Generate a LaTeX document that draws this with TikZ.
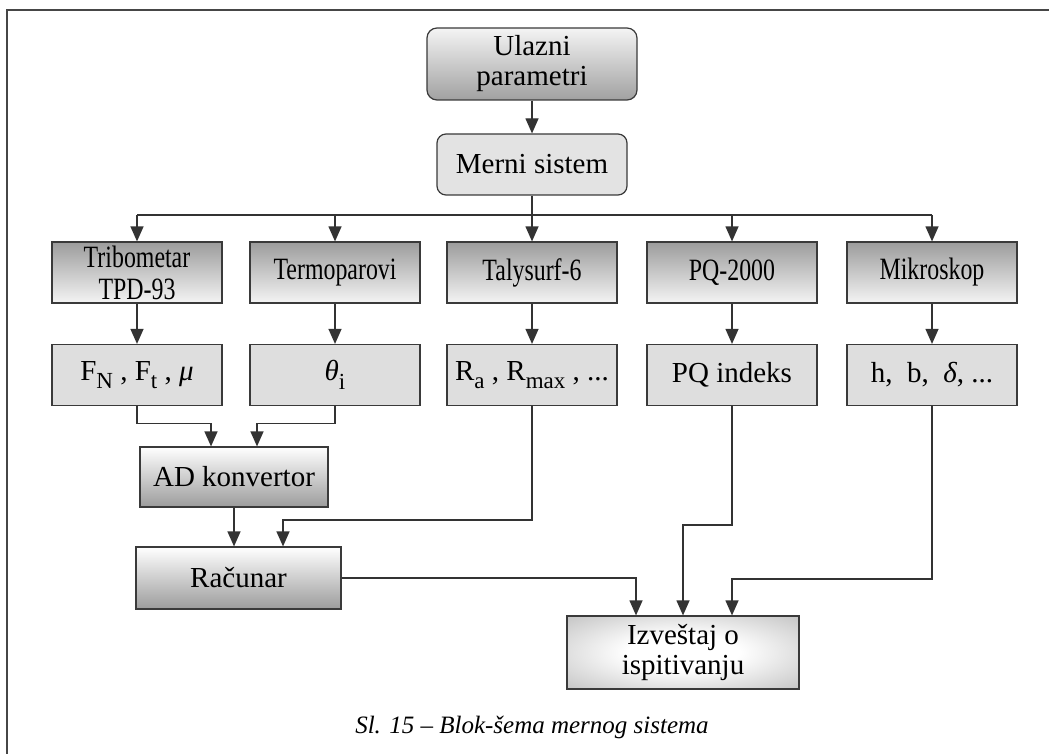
\documentclass[tikz,border=0pt]{standalone}
\usepackage{fontspec}
\setmainfont{Liberation Serif}
\newfontfamily\narrowserif[FakeStretch=0.77]{Liberation Serif}
\definecolor{framegray}{HTML}{464646}
\definecolor{boxline}{HTML}{3A3A3A}
\definecolor{flatgray}{HTML}{DEDEDE}
\definecolor{softgray}{HTML}{E3E3E3}
\definecolor{darkshade}{HTML}{9C9C9C}
\definecolor{lightshade}{HTML}{F4F4F4}
\usetikzlibrary{arrows.meta,positioning}
\newcommand{\lowsub}[1]{\raisebox{-0.3em}{\fontsize{23}{23}\selectfont #1}}
\pgfdeclareradialshading{reportglow}{\pgfpoint{0bp}{0bp}}{%
  color(0bp)=(white); color(12bp)=(white); color(50bp)=(darkshade!95)}

\begin{document}
\begin{tikzpicture}[x=1pt,y=-1pt,
  box/.style={draw=boxline,line width=1.2pt,inner sep=0pt,align=center,
    minimum width=170pt,minimum height=61pt,font=\fontsize{29}{30}\selectfont},
  inputbox/.style={box,rounded corners=10pt,top color=lightshade,bottom color=darkshade!95},
  systembox/.style={box,rounded corners=9pt,fill=softgray},
  devbox/.style={box,top color=darkshade,bottom color=lightshade,
    font=\narrowserif\fontsize{31}{32}\selectfont},
  valbox/.style={box,fill=flatgray},
  procbox/.style={box,top color=white,bottom color=darkshade},
  reportbox/.style={box,shade,shading=reportglow},
  wire/.style={draw=black!80,line width=1.2pt},
  arrow/.style={wire,-{Triangle[length=15pt,width=13pt]}}]
  \useasboundingbox (0,0) rectangle (1049,754);
  % frame
  \draw[framegray,line width=2pt] (7,754) -- (7,10) -- (1049,10);
  % top of the chain
  \node[inputbox,minimum width=210pt,minimum height=72pt] (ulaz) at (532,64) {Ulazni\\parametri};
  \node[systembox,minimum width=190pt] (merni) at (532,164.5) {Merni sistem};
  \draw[arrow] (ulaz) -- (merni);
  % instruments
  \foreach \name/\x/\txt in {tribo/137/{Tribometar\\TPD-93}, termo/335/Termoparovi,
    taly/532/Talysurf-6, pq/732/PQ-2000, mikro/932/Mikroskop} {
    \node[devbox] (\name) at (\x,272.5) {\txt};
  }
  \coordinate (bus) at (532,215);
  \draw[wire] (tribo.north |- bus) -- (mikro.north |- bus);
  \draw[wire] (merni.south) -- (bus);
  \foreach \name in {tribo,termo,taly,pq,mikro} {
    \draw[arrow] (\name.north |- bus) -- (\name.north);
  }
  % measured values
  \foreach \name/\src/\x/\txt in {fn/tribo/137/{F\lowsub{N} , F\lowsub{t} , \textit{μ}},
    theta/termo/335/{\textit{θ}\lowsub{i}}, ra/taly/532/{R\lowsub{a} , R\lowsub{max} , ...},
    pqi/pq/732/PQ indeks, hb/mikro/932/{h,\ \ b,\ \ \textit{δ}, ...}} {
    \node[valbox] (\name) at (\x,375) {\txt};
    \draw[arrow] (\src) -- (\name);
  }
  % processing
  \node[procbox,minimum width=188pt,minimum height=60pt] (ad) at (234,477) {AD konvertor};
  \node[procbox,minimum width=205pt,minimum height=62pt] (racunar) at (238.5,578) {Računar};
  \node[reportbox,minimum width=232pt,minimum height=73pt] (izv) at (683,652.5) {Izveštaj o\\ispitivanju};
  \draw[arrow] (fn.south) -- ++(0,17) -| ([xshift=-23pt]ad.north);
  \draw[arrow] (theta.south) -- ++(0,17) -| ([xshift=23pt]ad.north);
  \draw[arrow] (ad.south) -- (ad.south |- racunar.north);
  \draw[arrow] (ra.south) -- (532,520) -| ([xshift=44.5pt]racunar.north);
  \draw[arrow] (racunar.east) -| ([xshift=-47pt]izv.north);
  \draw[arrow] (pqi.south) -- (732,525) -| (izv.north);
  \draw[arrow] (hb.south) -- (932,579) -| ([xshift=49pt]izv.north);
  % caption
  \node[anchor=base,font=\itshape\fontsize{25}{25}\selectfont] (caption) at (532,733)
    {Sl. 15 – Blok-šema mernog sistema};
\end{tikzpicture}
\end{document}
